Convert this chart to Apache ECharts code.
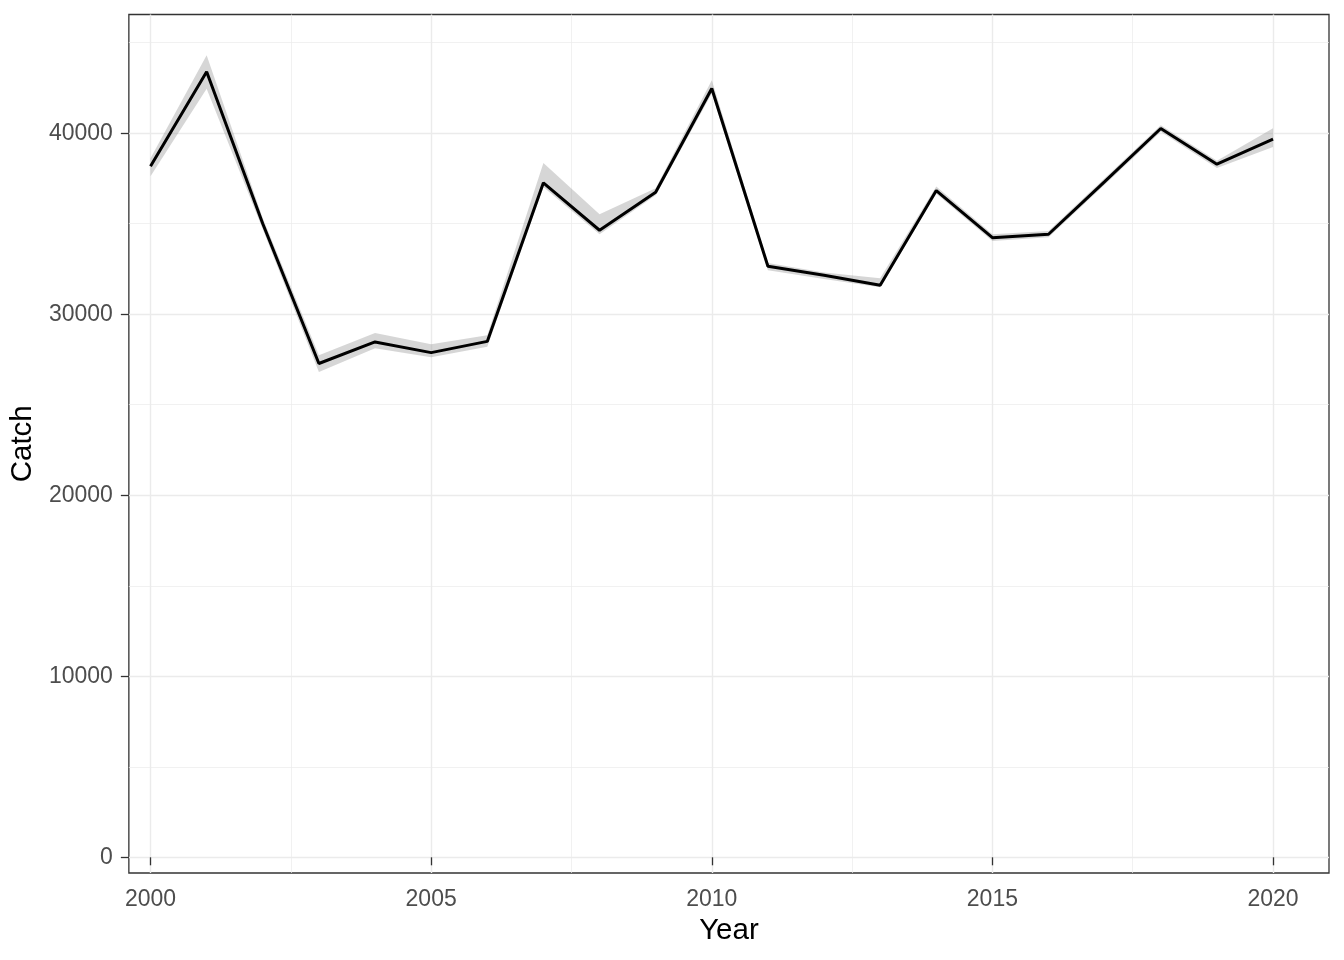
<!DOCTYPE html>
<html lang="en">
<head>
	<meta charset="UTF-8">
	<title>Catch by year</title>
	<script src="https://cdn.jsdelivr.net/npm/echarts@6/dist/echarts.min.js"></script>
	<style>
		html, body { margin: 0; padding: 0; background: #fff; }
		#chart { width: 1344px; height: 960px; }
	</style>
</head>
<body>
	<div id="chart"></div>
	<script>
		// data
		let years = [2000, 2001, 2002, 2003, 2004, 2005, 2006, 2007, 2008, 2009, 2010,
			2011, 2012, 2013, 2014, 2015, 2016, 2017, 2018, 2019, 2020];
		let catchMid = [38180, 43390, 35000, 27280, 28470, 27880, 28500, 37260, 34640, 36740, 42470,
			32650, 32150, 31600, 36830, 34230, 34420, 37330, 40260, 38290, 39670];
		let catchLow = [37620, 42450, 34700, 26810, 28120, 27620, 28200, 37030, 34420, 36570, 42200,
			32430, 31950, 31490, 36650, 34050, 34250, 37150, 40080, 38080, 39240];
		let catchHigh = [38620, 44310, 35300, 27740, 28970, 28340, 28840, 38360, 35520, 36960, 42930,
			32830, 32300, 31990, 37050, 34420, 34600, 37510, 40440, 38480, 40280];
		let xTicks = [2000, 2005, 2010, 2015, 2020];
		let xMinor = [2002.5, 2007.5, 2012.5, 2017.5];
		let yTicks = [0, 10000, 20000, 30000, 40000];
		let yMinor = [5000, 15000, 25000, 35000, 45000];

		let font = 'Liberation Sans, Arial, sans-serif';
		let xRange = [1999.614, 2020.997];
		let yRange = [-867, 46558];

		let chart = echarts.init(document.getElementById('chart'));

		function xAxisOf(ticks, major) {
			return {
				type: 'value',
				min: xRange[0],
				max: xRange[1],
				position: 'bottom',
				name: major ? 'Year' : '',
				nameLocation: 'middle',
				nameGap: 43,
				nameTextStyle: { color: '#000', fontSize: 29.5, fontFamily: font },
				axisLine: { show: false },
				axisTick: {
					show: major, customValues: ticks, length: 8,
					lineStyle: { color: '#333', width: 1.3 }
				},
				axisLabel: {
					show: major, customValues: ticks, margin: 15,
					formatter: v => String(v),
					color: '#4D4D4D', fontSize: 23, fontFamily: font
				},
				splitLine: { show: true, lineStyle: { color: '#EBEBEB', width: major ? 1.4 : 0.7 } }
			};
		}
		function yAxisOf(ticks, major) {
			return {
				type: 'value',
				min: yRange[0],
				max: yRange[1],
				position: 'left',
				name: major ? 'Catch' : '',
				nameLocation: 'middle',
				nameGap: 73,
				nameTextStyle: { color: '#000', fontSize: 29.5, fontFamily: font },
				axisLine: { show: false },
				axisTick: {
					show: major, customValues: ticks, length: 8,
					lineStyle: { color: '#333', width: 1.3 }
				},
				axisLabel: {
					show: major, customValues: ticks, margin: 16,
					formatter: v => String(v),
					color: '#4D4D4D', fontSize: 23, fontFamily: font
				},
				splitLine: { show: true, lineStyle: { color: '#EBEBEB', width: major ? 1.4 : 0.7 } }
			};
		}

		// ribbon drawn as one polygon through the axis scales
		function renderBand(params, api) {
			if (params.dataIndex !== 0) return null;
			let pts = [];
			for (let i = 0; i < years.length; i++) pts.push(api.coord([years[i], catchHigh[i]]));
			for (let i = years.length - 1; i >= 0; i--) pts.push(api.coord([years[i], catchLow[i]]));
			return {
				type: 'polygon',
				shape: { points: pts },
				style: { fill: 'rgba(153,153,153,0.4)' }
			};
		}

		let options = {
			animation: false,
			grid: {
				left: 128.5, right: 15, top: 14.5, bottom: 87,
				show: true,
				backgroundColor: '#fff',
				borderColor: '#333',
				borderWidth: 1.3
			},
			xAxis: [xAxisOf(xTicks, true), xAxisOf(xMinor, false)],
			yAxis: [yAxisOf(yTicks, true), yAxisOf(yMinor, false)],
			series: [
				{
					name: 'band',
					type: 'custom',
					silent: true,
					renderItem: renderBand,
					encode: { x: 0, y: [1, 2] },
					data: years.map((y, i) => [y, catchLow[i], catchHigh[i]])
				},
				{
					name: 'Catch',
					type: 'line',
					symbol: 'none',
					lineStyle: { color: '#000', width: 3 },
					data: years.map((y, i) => [y, catchMid[i]])
				}
			]
		};
		chart.setOption(options);
	</script>
</body>
</html>
